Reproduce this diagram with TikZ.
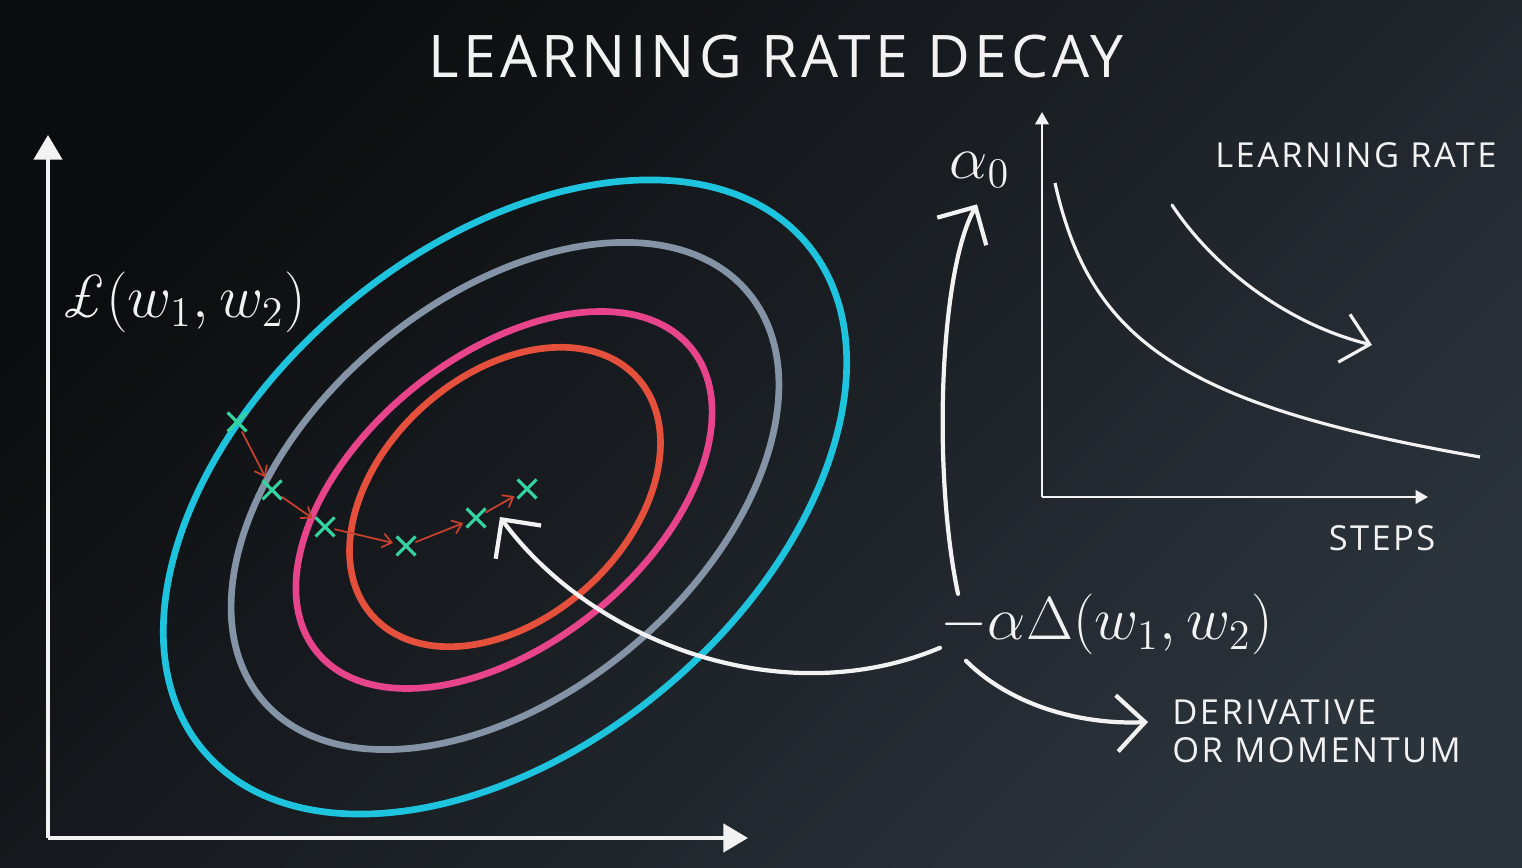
\documentclass[tikz,border=0pt]{standalone}
\usepackage{fontspec}
\usepackage{xcolor}
\usepackage{tikz}
\usetikzlibrary{arrows.meta,shapes.misc}
\newfontfamily\osans{Open Sans}
\newfontfamily\osanswide[LetterSpace=7]{Open Sans}
\definecolor{bgdark}{HTML}{0B0C0E}
\definecolor{bgmid}{HTML}{14171A}
\definecolor{bglight}{HTML}{2B333B}
\definecolor{ringcyan}{HTML}{1EC3DE}
\definecolor{ringgray}{HTML}{8494A6}
\definecolor{ringpink}{HTML}{E8448C}
\definecolor{ringred}{HTML}{E5503C}
\definecolor{stepred}{HTML}{C8402F}
\definecolor{markgreen}{HTML}{34D4A0}
\definecolor{ink}{HTML}{F2F2F2}

\begin{document}
\begin{tikzpicture}[x=0.01cm, y=-0.01cm,
  ring/.style={line width=1.9pt},
  axis/.style={draw=ink, line width=1.1pt, -{Triangle[length=7pt,width=8pt]}},
  smallaxis/.style={draw=ink, line width=0.7pt, -{Triangle[length=3.5pt,width=3.8pt]}},
  curvear/.style={draw=ink, line width=1.2pt, line cap=round,
               -{Straight Barb[length=8pt,width=16pt,line width=1.2pt]}},
  thincurvear/.style={curvear, line width=0.9pt,
               -{Straight Barb[length=7.5pt,width=14pt,line width=0.9pt]}},
  stepar/.style={draw=stepred, line width=0.5pt,
                 -{Straight Barb[length=2.6pt,width=4pt]}, shorten >=1pt},
  xmark/.style={cross out, draw=markgreen, line width=0.9pt, minimum size=4.5pt, inner sep=0pt},
  txt/.style={text=ink, font=\osanswide\fontsize{9.8}{10.8}\selectfont},
  mth/.style={text=ink, font=\LARGE, inner sep=0pt}]

\shade[top color=bgdark, middle color=bgmid, bottom color=bglight, shading angle=45]
  (0,0) rectangle (1522,868);
\useasboundingbox (0,0) rectangle (1522,868);

\node[text=ink, font=\osanswide\fontsize{16.7}{20}\selectfont] (title) at (776,57) {LEARNING RATE DECAY};

\coordinate (o) at (48,838);
\coordinate (ytop) at (48,135);
\coordinate (xend) at (748,838);
\draw[axis] (o) -- (ytop);
\draw[axis] (o) -- (xend);

\node[mth] (loss) at (183,302) {$\textit{\pounds}(w_1,w_2)$};

\draw[ring, ringcyan, rotate around={40:(505,497)}] (505,497) ellipse [x radius=394, y radius=249];
\draw[ring, ringgray, rotate around={40:(505,496)}] (505,496) ellipse [x radius=317, y radius=197];
\draw[ring, ringpink, rotate around={39:(504,500)}] (504,500) ellipse [x radius=241, y radius=144];
\draw[ring, ringred, rotate around={42:(505,497)}] (505,497) ellipse [x radius=178, y radius=122];

\node[xmark] (p1) at (237,422) {};
\node[xmark] (p2) at (272,490) {};
\node[xmark] (p3) at (325,527) {};
\node[xmark] (p4) at (406,546) {};
\node[xmark] (p5) at (476,518) {};
\node[xmark] (p6) at (527,489) {};
\draw[stepar] (p1) -- (p2);
\draw[stepar] (p2) -- (p3);
\draw[stepar] (p3) -- (p4);
\draw[stepar] (p4) -- (p5);
\draw[stepar] (p5) -- (p6);

\coordinate (o2) at (1042,497);
\coordinate (ytop2) at (1042,112);
\coordinate (xend2) at (1428,497);
\draw[smallaxis] (o2) -- (ytop2);
\draw[smallaxis] (o2) -- (xend2);
\draw[ink, line width=0.9pt] (1055,183) .. controls (1090,340) and (1180,405) .. (1480,457);
\draw[thincurvear] (1172,205) .. controls (1215,270) and (1290,325) .. (1372,345);

\node[txt] (lr) at (1356,155) {LEARNING RATE};
\node[txt] (steps) at (1382,538) {STEPS};
\node[mth] (alpha0) at (980,170) {$\alpha_0$};
\node[mth, anchor=base west] (grad) at (940,640) {$-\alpha\Delta(w_1,w_2)$};
\node[txt, align=left, anchor=west] (deriv) at (1160,731) {DERIVATIVE\\OR MOMENTUM};

\coordinate (gtip) at (500,517);
\draw[curvear] ([shift={(0,23)}]grad.west) .. controls (780,715) and (590,640) .. (gtip);
\draw[curvear] ([shift={(18,0)}]grad.north west) .. controls (932,470) and (940,270) .. ([shift={(-3,16)}]alpha0.south);
\draw[curvear] ([shift={(26,5)}]grad.south west) .. controls (1010,705) and (1080,725) .. ([shift={(-12,-9)}]deriv.west);
\end{tikzpicture}
\end{document}
